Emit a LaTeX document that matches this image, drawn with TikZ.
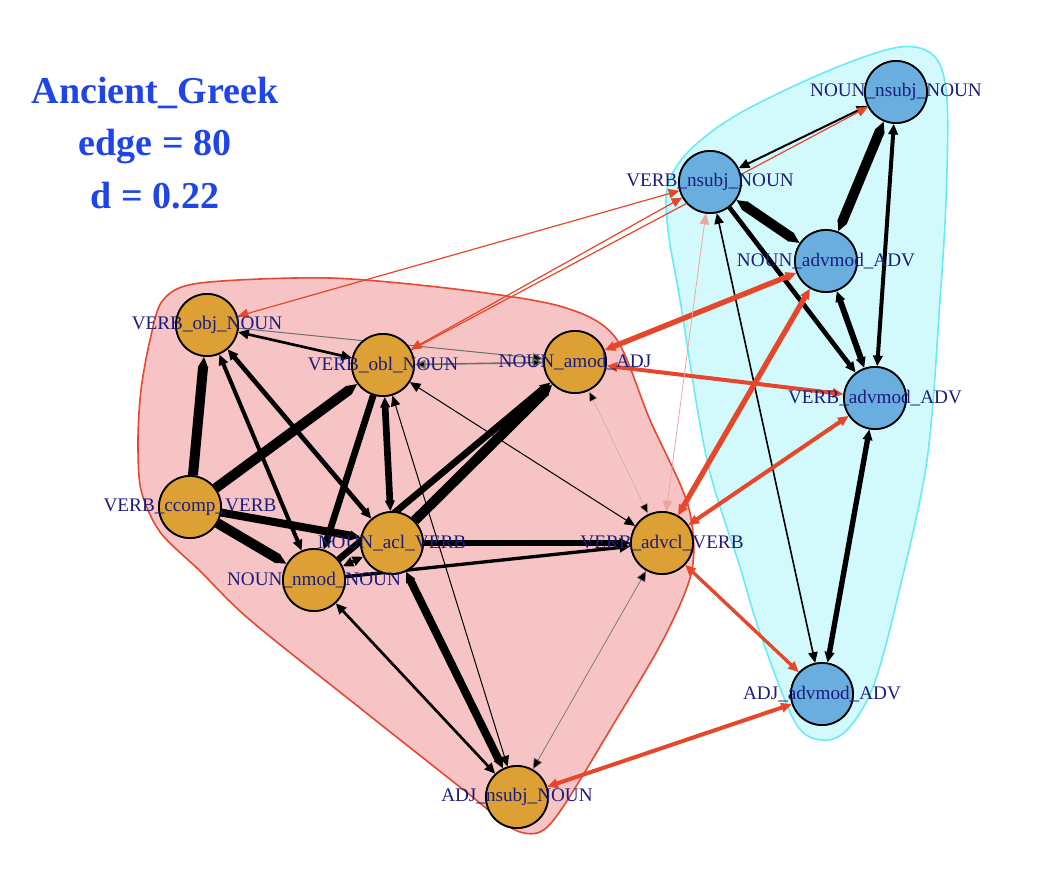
\documentclass[tikz,border=0pt]{standalone}
\usepackage{fontspec}
\setmainfont{Liberation Serif}
\usetikzlibrary{arrows.meta}
\definecolor{ornode}{RGB}{221,160,52}
\definecolor{blnode}{RGB}{106,174,224}
\definecolor{labcol}{RGB}{28,28,125}
\definecolor{titlecol}{RGB}{31,68,232}
\definecolor{hullredfill}{RGB}{246,196,196}
\definecolor{hullredline}{RGB}{230,72,50}
\definecolor{hullcyanfill}{RGB}{210,250,252}
\definecolor{hullcyanline}{RGB}{105,235,245}
\definecolor{redge}{RGB}{232,70,42}
\definecolor{lightred}{RGB}{238,165,160}
\definecolor{midgray}{RGB}{110,110,110}
\definecolor{lightgray}{RGB}{215,170,170}
\tikzset{
  vo/.style={circle, draw=black, line width=1.3pt, fill=ornode, minimum size=46.5pt, inner sep=0pt},
  vb/.style={circle, draw=black, line width=1.3pt, fill=blnode, minimum size=46.5pt, inner sep=0pt},
  lab/.style={text=labcol, font=\fontsize{14.4}{16}\selectfont, inner sep=0pt},
  ttl/.style={text=titlecol, font=\fontsize{28.5}{32}\selectfont\bfseries, anchor=base},
  one/.style={-{Triangle[length=8pt,width=7pt]}},
  two/.style={{Triangle[length=8pt,width=7pt]}-{Triangle[length=8pt,width=7pt]}},
  bk/.style={draw=black},
  rd/.style={draw=redge, color=redge},
}
\begin{document}
\begin{tikzpicture}[x=0.75pt,y=-0.75pt]
\useasboundingbox (0,0) rectangle (1040,872);
% hulls
\filldraw[fill=hullredfill, draw=hullredline, line width=1.2pt]
  plot[smooth cycle, tension=0.5] coordinates {
  (163,300) (200,283) (330,278) (463,290) (563,307) (615,337) (650,420)
  (688,505) (692,570) (663,640) (613,725) (563,807) (540,832) (513,829)
  (470,795) (360,708) (250,620) (200,571) (160,532) (141,490) (138,440)
  (141,390) (150,340)};
\filldraw[fill=hullcyanfill, draw=hullcyanline, line width=1.2pt]
  plot[smooth cycle, tension=0.55] coordinates {
  (668,185) (690,150) (740,113) (830,70) (900,47) (935,57) (947,100)
  (946,200) (940,300) (927,460) (897,600) (873,687) (847,730) (822,740)
  (795,722) (760,633) (740,567) (707,460) (680,300) (668,230)};
% node circles
\node[vo] (A) at (207,325) {};
\node[vo] (B) at (383,365) {};
\node[vo] (C) at (575,362) {};
\node[vo] (D) at (190,507) {};
\node[vo] (E) at (314,580) {};
\node[vo] (F) at (392,543) {};
\node[vo] (G) at (662,543) {};
\node[vo] (H) at (517,797) {};
\node[vb] (P) at (896,92) {};
\node[vb] (Q) at (710,182) {};
\node[vb] (R) at (826,261) {};
\node[vb] (S) at (875,398) {};
\node[vb] (T) at (822,694) {};
% black edges, red cluster
\path[bk, one, line width=7.5pt] (D) edge (A);
\path[bk, one, line width=7.5pt] (D) edge (B);
\path[bk, one, line width=7.5pt] (D) edge (E);
\path[bk, one, line width=6pt] (D) edge (F);
\path[bk, two, line width=3pt] (A) edge (E);
\path[bk, two, line width=3.5pt] (A) edge (F);
\path[bk, two, line width=2pt] (A) edge (B);
\path[draw=midgray, one, line width=0.75pt] (A) edge (C);
\path[draw=midgray, two, line width=1.2pt] (B) edge (C);
\path[bk, one, line width=5pt] (B) edge (E);
\path[bk, two, line width=5pt] (B) edge (F);
\path[bk, two, line width=0.75pt] (B) edge (H);
\path[bk, two, line width=0.75pt] (B) edge (G);
\path[bk, one, line width=7.5pt] (F) edge (C);
\path[bk, one, line width=5pt] (E) edge (C);
\path[bk, one, line width=4pt] (F) edge (G);
\path[bk, one, line width=2.5pt] (E) edge (G);
\path[bk, two, line width=6pt] (F) edge (H);
\path[bk, two, line width=2pt] (E) edge (H);
\path[draw=midgray, two, line width=0.5pt] (G) edge (H);
\path[draw=lightgray, two, line width=0.5pt] (C) edge (G);
\path[bk, two, line width=2pt] (E) edge (F);
% black edges, cyan cluster
\path[bk, two, line width=1.5pt] (P) edge (Q);
\path[bk, two, line width=7.5pt] (R) edge (P);
\path[bk, two, line width=3pt] (P) edge (S);
\path[bk, two, line width=7.5pt] (R) edge (Q);
\path[bk, one, line width=3.5pt] (Q) edge (S);
\path[bk, two, line width=1.2pt] (Q) edge (T);
\path[bk, two, line width=4.5pt] (R) edge (S);
\path[bk, two, line width=4pt] (S) edge (T);
% red edges between clusters
\path[rd, two, line width=4pt] (R) edge (C);
\path[rd, two, line width=3pt] (S) edge (C);
\path[rd, two, line width=4pt] (R) edge (G);
\path[rd, two, line width=3pt] (S) edge (G);
\path[rd, two, line width=2.5pt] (G) edge (T);
\path[rd, two, line width=3pt] (H) edge (T);
\path[rd, two, line width=0.9pt] (Q) edge (A);
\path[rd, two, line width=0.9pt] (Q) edge (B);
\path[rd, one, line width=0.9pt] (B) edge (P);
\path[draw=lightred, color=lightred, two, line width=0.6pt] (G) edge (Q);
% redraw circles on top of edges
\node[vo] at (A) {};
\node[vo] at (B) {};
\node[vo] at (C) {};
\node[vo] at (D) {};
\node[vo] at (E) {};
\node[vo] at (F) {};
\node[vo] at (G) {};
\node[vo] at (H) {};
\node[vb] at (P) {};
\node[vb] at (Q) {};
\node[vb] at (R) {};
\node[vb] at (S) {};
\node[vb] at (T) {};
% labels
\node[lab] at (A) {VERB\_obj\_NOUN};
\node[lab] at (B) {VERB\_obl\_NOUN};
\node[lab] at (C) {NOUN\_amod\_ADJ};
\node[lab] at (D) {VERB\_ccomp\_VERB};
\node[lab] at (E) {NOUN\_nmod\_NOUN};
\node[lab] at (F) {NOUN\_acl\_VERB};
\node[lab] at (G) {VERB\_advcl\_VERB};
\node[lab] at (H) {ADJ\_nsubj\_NOUN};
\node[lab] at (P) {NOUN\_nsubj\_NOUN};
\node[lab] at (Q) {VERB\_nsubj\_NOUN};
\node[lab] at (R) {NOUN\_advmod\_ADV};
\node[lab] at (S) {VERB\_advmod\_ADV};
\node[lab] at (T) {ADJ\_advmod\_ADV};
% title
\node[ttl] (t1) at (155,103) {Ancient\_Greek};
\node[ttl] (t2) at (155,155) {edge = 80};
\node[ttl] (t3) at (155,208) {d = 0.22};
\end{tikzpicture}
\end{document}
